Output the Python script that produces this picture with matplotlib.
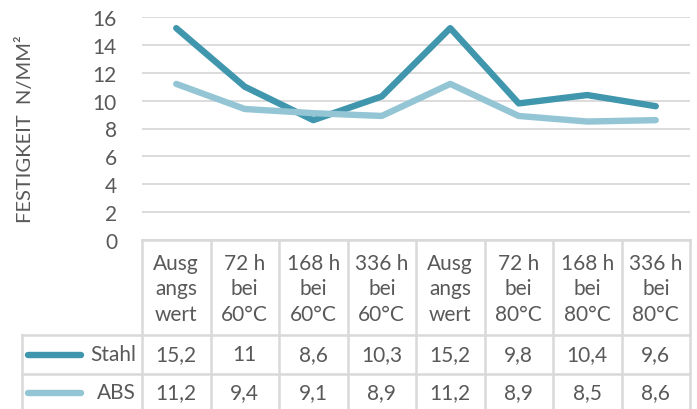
import matplotlib
matplotlib.use("Agg")
import matplotlib.pyplot as plt
from matplotlib import transforms

plt.rcParams['font.family'] = ['Lato', 'DejaVu Sans']

categories = ["Ausg\nangs\nwert", "72 h\nbei\n60°C", "168 h\nbei\n60°C", "336 h\nbei\n60°C",
              "Ausg\nangs\nwert", "72 h\nbei\n80°C", "168 h\nbei\n80°C", "336 h\nbei\n80°C"]
series_names = ["Stahl", "ABS"]
stahl = [15.2, 11, 8.6, 10.3, 15.2, 9.8, 10.4, 9.6]
abs_vals = [11.2, 9.4, 9.1, 8.9, 11.2, 8.9, 8.5, 8.6]
yticks = [0, 2, 4, 6, 8, 10, 12, 14, 16]
ylabel = "FESTIGKEIT  N/MM²"

colors = ["#3f96ad", "#93c5d5"]
text_color = "#595959"
grid_color = "#d9d9d9"

W, H = 697, 410
fig = plt.figure(figsize=(W / 100, H / 100), dpi=100)

# pixel overlay axes
ov = fig.add_axes([0, 0, 1, 1])
ov.set_xlim(0, W)
ov.set_ylim(H, 0)
ov.axis("off")

x0, x1 = 142, 690
ytop, ybot = 18, 241
ax = fig.add_axes([x0 / W, 1 - ybot / H, (x1 - x0) / W, (ybot - ytop) / H])
n = len(categories)
xs = list(range(n))
ax.set_xlim(-0.5, n - 0.5)
ax.set_ylim(0, 16)
for s, vals, c in zip(series_names, [stahl, abs_vals], colors):
    ax.plot(xs, vals, color=c, lw=4.6, solid_capstyle="round", solid_joinstyle="round", zorder=3)
ax.set_yticks(yticks)
ax.set_yticklabels([str(t) for t in yticks], fontsize=15, color=text_color)
ax.tick_params(axis="y", length=0, pad=18)
ax.set_xticks([])
for sp in ax.spines.values():
    sp.set_visible(False)
ax.yaxis.grid(True, color=grid_color, lw=1.3)
ax.set_axisbelow(True)
ax.patch.set_alpha(0)
ax.set_ylabel(ylabel, fontsize=14.5, color=text_color, labelpad=14)
ax.yaxis.set_label_coords(-0.197, 0.50)

# table drawn in blended coords: x from data, y in pixels
bt = transforms.blended_transform_factory(ax.transData, ov.transData)
lw_t = 1.8
y_head_bot, y_r1_bot, y_r2_bot = 336, 375, 412
# horizontal lines
ov.plot([x0, x1], [ybot, ybot], color=grid_color, lw=lw_t)
for yy in [y_head_bot, y_r1_bot, y_r2_bot]:
    ov.plot([22, x1], [yy, yy], color=grid_color, lw=lw_t)
# vertical lines
for i in range(n + 1):
    ov.plot([i - 0.5, i - 0.5], [ybot, y_r2_bot], color=grid_color, lw=lw_t, transform=bt)
ov.plot([22, 22], [y_head_bot, y_r2_bot], color=grid_color, lw=lw_t)

fs = 15
for i, cat in enumerate(categories):
    ov.text(i, (ybot + y_head_bot) / 2 + 1, cat, transform=bt, ha="center", va="center",
            fontsize=fs, color=text_color, linespacing=1.32)

def fmt(v):
    s = ("%g" % v).replace(".", ",")
    return s

rows = [(y_head_bot + y_r1_bot) / 2, (y_r1_bot + y_r2_bot) / 2]
for (name, vals, c), yc in zip(zip(series_names, [stahl, abs_vals], colors), rows):
    for i, v in enumerate(vals):
        ov.text(i, yc, fmt(v), transform=bt, ha="center", va="center", fontsize=fs, color=text_color)
    ov.plot([28, 81], [yc, yc], color=c, lw=4.6, solid_capstyle="round")
    ov.text(136, yc, name, ha="right", va="center", fontsize=fs, color=text_color)

fig.savefig("out.png", dpi=100)
